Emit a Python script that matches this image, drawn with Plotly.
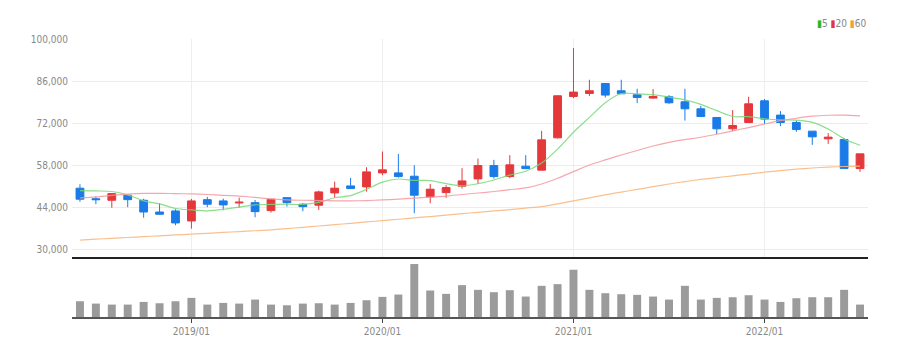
import plotly.graph_objects as go

# ---------------- data ----------------
months = [f"{y}/{m:02d}" for y in range(2018, 2023) for m in range(1, 13)][5:55]  # 2018/06 .. 2022/07

opens = [50500, 47000, 46500, 48170, 46500, 42600, 42950, 39630, 46700, 46280,
         45600, 45710, 43060, 47370, 45180, 44850, 48940, 51260, 50930, 55580,
         55580, 54470, 47610, 49040, 51160, 53590, 58000, 54350, 57800, 56480,
         67210, 80930, 81930, 85250, 82820, 81490, 80390, 80820, 79160, 76840,
         73960, 70200, 72290, 79500, 74750, 72290, 69430, 66880, 66640, 57010]
highs = [51800, 47700, 48900, 48200, 47000, 45500, 43500, 46940, 47600, 47040,
         47370, 46600, 46900, 47400, 45510, 49700, 52690, 53920, 57470, 62650,
         61890, 58140, 51930, 51490, 57140, 60330, 59900, 61460, 61460, 69530,
         81300, 97000, 86470, 85300, 86470, 83490, 83380, 81390, 83490, 77840,
         74000, 76410, 80820, 80060, 76080, 72950, 69430, 68770, 67210, 61900]
lows = [46000, 45200, 44000, 44200, 40700, 41700, 38200, 37080, 44200, 43190,
        44050, 40860, 42400, 44380, 42860, 43290, 47370, 50300, 49370, 54810,
        54020, 42190, 45510, 47270, 50370, 51930, 53690, 53820, 56810, 56480,
        67000, 80390, 81050, 80600, 81800, 78730, 80160, 78500, 72950, 74080,
        68440, 69430, 72290, 71760, 71090, 69200, 64880, 65210, 57000, 55910]
closes = [46850, 46700, 48700, 46700, 42600, 41850, 38970, 46280, 45180, 44950,
          45850, 42720, 46840, 45710, 44380, 49270, 50500, 50370, 55910, 56580,
          54350, 48170, 50170, 50700, 52920, 58000, 54350, 58240, 57000, 66540,
          81160, 82390, 82820, 81390, 81830, 80600, 80930, 78830, 76840, 74290,
          70200, 71300, 78500, 73420, 72290, 69960, 67540, 67430, 57010, 61890]

ma5 = [49700, 49600, 49400, 48300, 46310, 45310, 43764, 43280, 42976, 43446,
       44246, 44996, 45108, 45214, 45100, 45784, 47340, 48046, 50086, 52526,
       53542, 53076, 53036, 51994, 51262, 51992, 53228, 54842, 56102, 58826,
       63458, 69066, 73982, 78860, 81918, 81806, 81514, 80716, 79806, 78298,
       76218, 74292, 74226, 73542, 73142, 73094, 72342, 70128, 66846, 64766]
ma20 = [47300, 47600, 48100, 48500, 48750, 48800, 48700, 48600, 48400, 48150,
        47850, 47450, 46950, 46650, 46500, 46400, 46300, 46300, 46400, 46600,
        46850, 47200, 47550, 47900, 48400, 48900, 49400, 50000, 50600, 51900,
        53800, 56000, 58200, 59900, 61500, 63000, 64500, 65700, 66600, 67400,
        68400, 69500, 70600, 71800, 72900, 73700, 74400, 74700, 74750, 74500]
ma60 = [33300, 33580, 33860, 34140, 34420, 34700, 34980, 35260, 35540, 35820,
        36100, 36380, 36700, 37100, 37500, 37950, 38400, 38850, 39300, 39750,
        40200, 40650, 41100, 41550, 42050, 42500, 42950, 43400, 43900, 44400,
        45300, 46300, 47300, 48300, 49200, 50100, 51000, 51900, 52700, 53400,
        54000, 54600, 55200, 55800, 56300, 56800, 57200, 57500, 57700, 57800]

volume_m = [4.7, 4.0, 3.7, 3.7, 4.5, 4.1, 4.7, 5.7, 3.7, 4.2,
            4.0, 5.2, 3.7, 3.5, 4.0, 4.1, 3.7, 4.2, 5.0, 6.0,
            6.7, 15.8, 7.9, 6.9, 9.5, 8.1, 7.4, 8.0, 6.1, 9.3,
            9.8, 14.1, 8.1, 7.1, 6.8, 6.6, 6.1, 5.2, 9.3, 5.2,
            5.7, 5.9, 6.5, 5.2, 4.5, 5.6, 5.9, 5.9, 8.1, 3.7]

y_ticks = [30000, 44000, 58000, 72000, 86000, 100000]
x_tick_vals = ["2019/01", "2020/01", "2021/01", "2022/01"]
x_tick_text = ["2019/01", "2020/01", "2021/01", "2022/01"]

ma_names = ["5", "20", "60"]
ma_line_colors = ["rgba(120,215,120,0.85)", "rgba(245,150,160,0.85)", "rgba(248,185,130,0.9)"]
ma_legend_colors = ["#2cb52c", "#e8343a", "#f5a030"]

RED = "#e5383b"
BLUE = "#1a7be8"
FONT = "DejaVu Sans Condensed, Liberation Sans Narrow, Liberation Sans, sans-serif"

# ---------------- figure ----------------
fig = go.Figure()

for name, vals, col in zip(ma_names, [ma5, ma20, ma60], ma_line_colors):
    fig.add_trace(go.Scatter(
        x=months, y=vals, mode="lines", name=name,
        line=dict(color=col, width=1.2, shape="spline", smoothing=0.8),
        xaxis="x", yaxis="y", showlegend=False, hoverinfo="skip"))

fig.add_trace(go.Candlestick(
    x=months, open=opens, high=highs, low=lows, close=closes,
    increasing=dict(line=dict(color=RED, width=1), fillcolor=RED),
    decreasing=dict(line=dict(color=BLUE, width=1), fillcolor=BLUE),
    whiskerwidth=0, xaxis="x", yaxis="y", showlegend=False))

fig.add_trace(go.Bar(
    x=months, y=[v * 1_000_000 for v in volume_m],
    marker=dict(color="#9b9b9b", line=dict(width=0)),
    width=0.5, xaxis="x2", yaxis="y2", showlegend=False))

legend_text = "".join(
    f"<span style='color:{c}'>▮</span>{n} " for n, c in zip(ma_names, ma_legend_colors)).strip()

fig.update_layout(
    width=901, height=348,
    margin=dict(l=64, r=41, t=31, b=39),
    paper_bgcolor="white", plot_bgcolor="white",
    font=dict(family=FONT, size=10, color="#888888"),
    showlegend=False,
    boxgap=0.3, boxgroupgap=0.3,
    xaxis=dict(
        domain=[0, 1], anchor="y", type="category", automargin=False,
        range=[-0.5, 49.5],
        tickmode="array", tickvals=x_tick_vals, ticktext=x_tick_text,
        showticklabels=False, ticks="",
        showgrid=True, gridcolor="#eeeeee", gridwidth=1,
        showline=True, linecolor="#222222", linewidth=2,
        rangeslider=dict(visible=False), fixedrange=True),
    yaxis=dict(
        domain=[0.2169, 1], anchor="x", automargin=False,
        range=[27770, 100000],
        tickmode="array", tickvals=y_ticks, tickformat=",",
        showgrid=True, gridcolor="#ececec", gridwidth=1,
        zeroline=False, showline=False, ticks="", ticklabelstandoff=3,
        tickfont=dict(family=FONT, size=10, color="#888888")),
    xaxis2=dict(
        domain=[0, 1], anchor="y2", type="category", matches="x", automargin=False,
        tickmode="array", tickvals=x_tick_vals, ticktext=x_tick_text,
        showgrid=False, ticks="outside", ticklen=4, tickcolor="#444444",
        showline=True, linecolor="#555555", linewidth=2,
        tickfont=dict(family=FONT, size=10, color="#888888")),
    yaxis2=dict(
        domain=[0, 0.2014], anchor="x2", automargin=False,
        range=[0, 16_700_000],
        showticklabels=False, showgrid=False, zeroline=False, showline=False, ticks=""),
    annotations=[dict(
        xref="paper", yref="paper", x=1.0, y=1.0, xanchor="right", yanchor="bottom",
        yshift=8, showarrow=False, text=legend_text,
        font=dict(family=FONT, size=10, color="#888888"))],
)

fig.write_html("out.html")
